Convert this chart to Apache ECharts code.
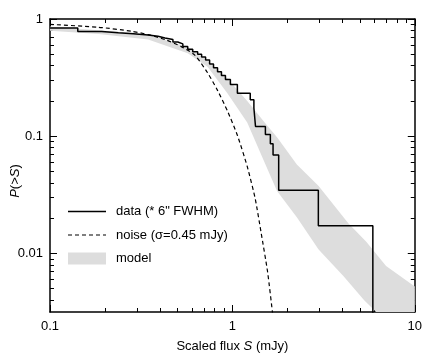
<!DOCTYPE html>
<html><head><meta charset="utf-8">
<script src="https://cdn.jsdelivr.net/npm/echarts@6/dist/echarts.min.js"></script>
<style>html,body{margin:0;padding:0;background:#fff}#c{width:425px;height:358px}</style>
</head><body><div id="c"></div><script>
// Observed cumulative distribution (step: value drops to P at flux S)
const dataS = [0.1, 0.142, 0.192, 0.237, 0.286, 0.345, 0.391, 0.427, 0.472, 0.502, 0.535, 0.569, 0.606, 0.645, 0.678, 0.713, 0.750, 0.788, 0.829, 0.871, 0.916, 0.975, 1.065, 1.253, 1.312, 1.339, 1.517, 1.615, 1.671, 1.794, 2.96, 5.89];
const dataP = [0.837, 0.784, 0.764, 0.750, 0.729, 0.712, 0.688, 0.668, 0.637, 0.613, 0.584, 0.552, 0.526, 0.501, 0.473, 0.447, 0.414, 0.383, 0.355, 0.329, 0.304, 0.276, 0.233, 0.205, 0.174, 0.121, 0.1034, 0.0862, 0.069, 0.0345, 0.0172, 0.001];
// Noise curve
const noiseS = [0.1, 0.185, 0.279, 0.345, 0.427, 0.522, 0.622, 0.731, 0.829, 0.939, 1.065, 1.206, 1.334, 1.438, 1.560, 1.660];
const noiseP = [0.900, 0.850, 0.787, 0.736, 0.668, 0.584, 0.492, 0.348, 0.246, 0.1647, 0.1019, 0.0552, 0.0293, 0.01496, 0.00694, 0.0031];
// Model band edges
const bandHiS = [0.1, 0.185, 0.345, 0.569, 0.759, 0.939, 1.206, 1.55, 1.757, 2.256, 2.97, 4.32, 5.42, 6.96, 10];
const bandHiP = [0.858, 0.802, 0.736, 0.573, 0.422, 0.310, 0.1995, 0.1235, 0.098, 0.0573, 0.0376, 0.0181, 0.0126, 0.00779, 0.00521];
const bandLoS = [0.1, 0.185, 0.345, 0.569, 0.731, 0.939, 1.206, 1.455, 1.757, 2.256, 2.97, 4.06, 5.28, 6.14];
const bandLoP = [0.794, 0.743, 0.668, 0.511, 0.391, 0.233, 0.131, 0.0668, 0.0341, 0.0203, 0.0108, 0.00643, 0.00398, 0.00316];
// Axes
const xRange = [0.1, 10];
const yRange = [0.0031623, 1];
const xMajor = [0.1, 1, 10];
const xMinor = [0.2,0.3,0.4,0.5,0.6,0.7,0.8,0.9,2,3,4,5,6,7,8,9];
const yMajor = [0.01, 0.1, 1];
const yMinor = [0.004,0.005,0.006,0.007,0.008,0.009,0.02,0.03,0.04,0.05,0.06,0.07,0.08,0.09,0.2,0.3,0.4,0.5,0.6,0.7,0.8,0.9];
const legendNames = ['data (* 6" FWHM)', 'noise (\u03c3=0.45 mJy)', 'model'];

const FONT = "'Liberation Sans', Arial, sans-serif";
const lineCol = '#000';
const lg = v => Math.log10(v);

// main log axis (carries data, line, labels)
function mainAxis(kind, position, showLabels) {
  const r = kind === 'x' ? xRange : yRange;
  const ticks = kind === 'x' ? xMajor : yMajor;
  return {
    type: 'log', logBase: 10, position: position, min: r[0], max: r[1],
    axisLine: { show: true, onZero: false, lineStyle: { color: lineCol, width: 1.5 } },
    axisTick: { show: false },
    axisLabel: { show: showLabels, customValues: ticks, color: '#000', fontFamily: FONT, fontSize: 13,
      margin: kind === 'x' ? 8 : 7, formatter: v => String(+(+v).toPrecision(6)) },
    splitLine: { show: false }, minorTick: { show: false }
  };
}
// tick-only overlay axis in log10 space
function tickAxis(kind, position, ticks, len) {
  const r = kind === 'x' ? xRange : yRange;
  return {
    type: 'value', position: position, min: lg(r[0]), max: lg(r[1]),
    axisLine: { show: false, onZero: false },
    axisTick: { show: true, inside: true, length: len, customValues: ticks.map(lg), lineStyle: { color: lineCol, width: 1 } },
    axisLabel: { show: false }, splitLine: { show: false }, minorTick: { show: false }
  };
}

const chart = echarts.init(document.getElementById('c'), null, { renderer: 'canvas' });

const xAxes = [
  Object.assign(mainAxis('x', 'bottom', true), {
    name: '{n|Scaled flux }{i|S}{n| (mJy)}', nameLocation: 'middle', nameGap: 28,
    nameTextStyle: { rich: { n: { fontFamily: FONT, fontSize: 13, color: '#000' }, i: { fontFamily: FONT, fontSize: 13, fontStyle: 'italic', color: '#000' } } }
  }),
  mainAxis('x', 'top', false),
  tickAxis('x', 'bottom', xMajor, 7),
  tickAxis('x', 'bottom', xMinor, 4),
  tickAxis('x', 'top', xMajor, 7),
  tickAxis('x', 'top', xMinor, 4)
];
const yAxes = [
  mainAxis('y', 'left', true),
  mainAxis('y', 'right', false),
  tickAxis('y', 'left', yMajor, 7),
  tickAxis('y', 'left', yMinor, 4),
  tickAxis('y', 'right', yMajor, 7),
  tickAxis('y', 'right', yMinor, 4)
];

const stepData = dataS.map((s, i) => [s, dataP[i]]);
const noiseData = noiseS.map((s, i) => [s, noiseP[i]]);

const solidIcon = 'path://M0,0H38V1.5H0Z';
const dashedIcon = 'path://M0,0h4v1.2h-4z M7,0h4v1.2h-4z M14,0h4v1.2h-4z M21,0h4v1.2h-4z M28,0h4v1.2h-4z M35,0h3v1.2h-3z';

chart.setOption({
  animation: false,
  backgroundColor: '#fff',
  grid: { left: 50, right: 7, top: 19, bottom: 39 },
  xAxis: xAxes,
  yAxis: yAxes,
  legend: {
    orient: 'vertical', left: 68, top: 205, padding: 0, itemWidth: 38, itemHeight: 12, itemGap: 10.5,
    symbolKeepAspect: true,
    textStyle: { fontFamily: FONT, fontSize: 13, color: '#000', padding: [0,0,0,5] },
    data: [
      { name: legendNames[0], icon: solidIcon, itemStyle: { color: '#000', borderWidth: 0 } },
      { name: legendNames[1], icon: dashedIcon, itemStyle: { color: '#000', borderWidth: 0 } },
      { name: legendNames[2], icon: 'rect', itemStyle: { color: '#dddddd', borderWidth: 0 } }
    ]
  },
  graphic: [{
    type: 'text', x: 15, y: 181, rotation: Math.PI / 2,
    style: {
      text: '{i|P}{n|(>}{i|S}{n|)}', align: 'center', verticalAlign: 'middle',
      rich: { n: { fontFamily: FONT, fontSize: 13, fill: '#000' }, i: { fontFamily: FONT, fontSize: 13, fontStyle: 'italic', fill: '#000' } }
    }
  }],
  series: [
    {
      name: legendNames[2], type: 'custom', xAxisIndex: 0, yAxisIndex: 0, z: 1,
      itemStyle: { color: '#dddddd' },
      data: [[1, 0.1]],
      renderItem: function (params, api) {
        const pts = [];
        bandHiS.forEach((s, i) => pts.push(api.coord([s, bandHiP[i]])));
        pts.push(api.coord([xRange[1], yRange[0]]));
        for (let i = bandLoS.length - 1; i >= 0; i--) pts.push(api.coord([bandLoS[i], bandLoP[i]]));
        return { type: 'polygon', shape: { points: pts }, style: { fill: '#dddddd' }, silent: true };
      }
    },
    {
      name: legendNames[0], type: 'line', step: 'end', data: stepData, symbol: 'none', z: 3,
      xAxisIndex: 0, yAxisIndex: 0,
      lineStyle: { color: '#000', width: 1.5 }, itemStyle: { color: '#000' }, clip: true
    },
    {
      name: legendNames[1], type: 'line', data: noiseData, symbol: 'none', smooth: 0.2, z: 2,
      xAxisIndex: 0, yAxisIndex: 0,
      lineStyle: { color: '#000', width: 1.2, type: [4, 3] }, itemStyle: { color: '#000' }, clip: true
    }
  ]
});
</script></body></html>
